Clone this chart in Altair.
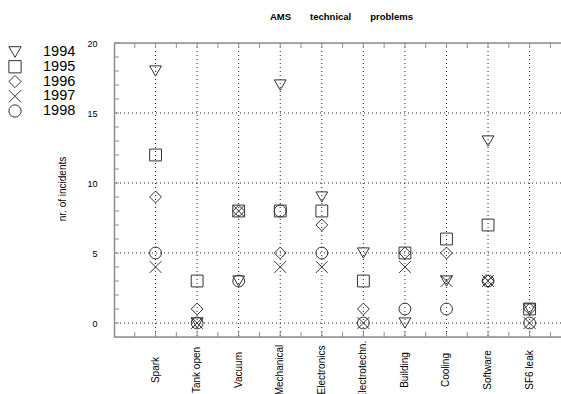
import altair as alt
import pandas as pd

# Problem categories and yearly incident counts
categories = ["Spark", "Tank open", "Vacuum", "Mechanical", "Electronics",
              "Electrotechn.", "Building", "Cooling", "Software", "SF6 leak"]
years = ["1994", "1995", "1996", "1997", "1998"]
y1994 = [18, 0, 3, 17, 9, 5, 0, 3, 13, 1]
y1995 = [12, 3, 8, 8, 8, 3, 5, 6, 7, 1]
y1996 = [9, 1, 8, 5, 7, 1, 5, 5, 3, 1]
y1997 = [4, 0, 8, 4, 4, 0, 4, 3, 3, 0]
y1998 = [5, 0, 3, 8, 5, 0, 1, 1, 3, 0]
series = [y1994, y1995, y1996, y1997, y1998]

y_labels = [0, 5, 10, 15, 20]

W, H = 447, 294
FONT = "Liberation Sans"
AXIS_GREY = "#8c8c8c"
INK = "#333333"

rows = []
for year, vals in zip(years, series):
    for i, (cat, v) in enumerate(zip(categories, vals)):
        rows.append({"pos": i + 1, "category": cat, "year": year, "count": v})
points_df = pd.DataFrame(rows)
cat_df = pd.DataFrame({"pos": list(range(1, len(categories) + 1)), "category": categories})
legend_df = pd.DataFrame({"year": years, "row": list(range(len(years)))})

x_scale = alt.Scale(domain=[0, 10.755], nice=False, zero=False)
y_scale = alt.Scale(domain=[-1, 20], nice=False, zero=False)
X = lambda f: alt.X(f, type="quantitative", scale=x_scale, axis=None)
Y = lambda f: alt.Y(f, type="quantitative", scale=y_scale, axis=None)

dotted = dict(color="#222222", strokeWidth=1, strokeDash=[1, 3])

# dotted grid: one vertical line per category, horizontal lines at the labelled values
vgrid = alt.Chart(cat_df).mark_rule(**dotted).encode(x=X("pos"))
hgrid = alt.Chart(pd.DataFrame({"v": y_labels[:-1]})).mark_rule(**dotted).encode(y=Y("v"))

# frame lines (top and bottom); the left one is the y axis domain
frame_df = pd.DataFrame({"edge": ["top", "bottom"], "py": [0, H]})
frame = alt.Chart(frame_df).mark_rule(color=AXIS_GREY, strokeWidth=1.5).encode(
    x=alt.value(0), x2=alt.value(W), y=alt.Y("py:Q", scale=None, axis=None)
)

# inward minor ticks
left_ticks = alt.Chart(pd.DataFrame({"v": list(range(0, 21))})).mark_rule(
    color=AXIS_GREY, strokeWidth=1
).encode(x=alt.value(0), x2=alt.value(5), y=Y("v"))

half_df = pd.DataFrame({"h": [k / 2 for k in range(1, 22)]})
bottom_ticks = alt.Chart(half_df).mark_rule(color=AXIS_GREY, strokeWidth=1).encode(
    x=X("h"), y=alt.value(H), y2=alt.value(H - 5)
)
top_ticks = alt.Chart(half_df).mark_rule(color=AXIS_GREY, strokeWidth=1).encode(
    x=X("h"), y=alt.value(0), y2=alt.value(5)
)

cross = "M-1,-1L1,1M-1,1L1,-1"
shape_scale = alt.Scale(domain=years,
                        range=["triangle-down", "square", "diamond", cross, "circle"])

pts = alt.Chart(points_df).mark_point(
    filled=False, size=140, strokeWidth=1, color=INK, opacity=1
).encode(
    x=X("pos"),
    y=alt.Y(
        "count:Q", scale=y_scale,
        axis=alt.Axis(
            values=y_labels, grid=False, ticks=False, tickSize=0,
            domainColor=AXIS_GREY, domainWidth=1.5,
            labelPadding=17, labelFontSize=9, labelFont=FONT, labelColor="black",
            title="nr. of incidents", titleFont=FONT, titleFontSize=10,
            titleFontWeight="normal", titleColor="black",
            titleAngle=270, titleAlign="center", titleBaseline="alphabetic",
            titleX=-49, titleY=145.5,
        ),
    ),
    shape=alt.Shape("year:N", scale=shape_scale, legend=None),
)

xlabels = alt.Chart(cat_df).mark_text(
    angle=270, align="center", baseline="middle", font=FONT, fontSize=10, color="black"
).encode(x=X("pos"), y=alt.value(327), text="category:N")

# year key in the upper left margin, one row per year
row_scale = alt.Scale(domain=[0, len(years) - 1], range=[9, 68])
key_symbols = alt.Chart(legend_df).mark_point(
    filled=False, size=150, strokeWidth=1, color=INK, opacity=1
).encode(
    x=alt.value(-99),
    y=alt.Y("row:Q", scale=row_scale, axis=None),
    shape=alt.Shape("year:N", scale=shape_scale, legend=None),
)
key_labels = alt.Chart(legend_df).mark_text(
    align="left", baseline="middle", font=FONT, fontSize=14.5, color="black"
).encode(
    x=alt.value(-71),
    y=alt.Y("row:Q", scale=row_scale, axis=None),
    text="year:N",
)

chart = alt.layer(
    vgrid, hgrid, left_ticks, bottom_ticks, top_ticks, frame, pts, xlabels,
    key_symbols, key_labels,
).resolve_scale(y="independent").properties(
    width=W, height=H,
    title=alt.TitleParams(
        "AMS\u2003\u2003technical\u2003\u2003problems", font=FONT, fontSize=9.5,
        fontWeight="bold", anchor="middle", frame="group", offset=10,
        baseline="alphabetic", dx=4, color="black",
    ),
    autosize=alt.AutoSizeParams(type="none"),
    padding={"left": 114, "top": 43, "right": 0, "bottom": 57},
).configure_view(stroke=None).configure(background="white")

chart.save("out.html", embed_options={"renderer": "svg", "actions": False})
